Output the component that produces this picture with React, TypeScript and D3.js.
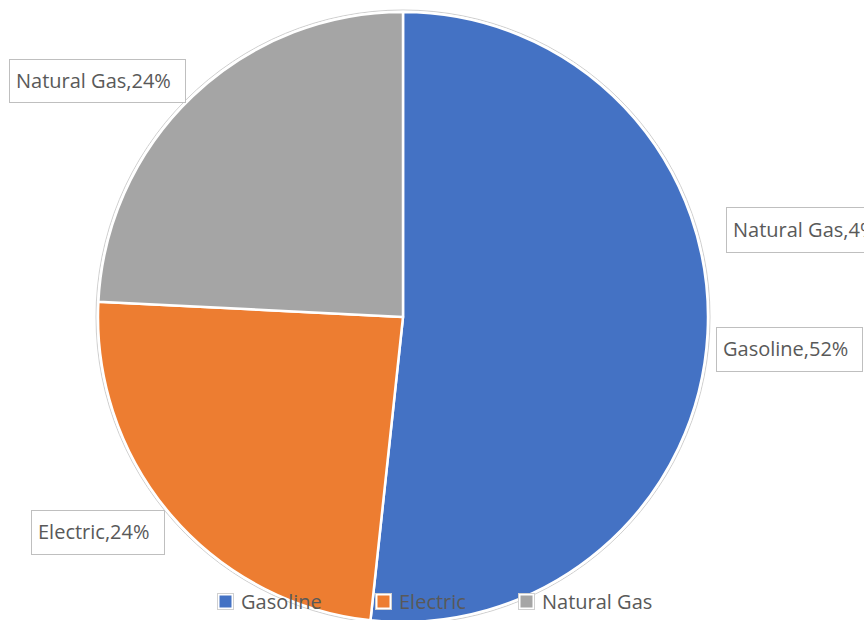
import * as d3 from "d3";
import React from "react";

// data
const categories = ["Gasoline", "Electric", "Natural Gas"];
const shares = [51.7, 24.1, 24.2];
const sliceColors = ["#4472C4", "#ED7D31", "#A5A5A5"];
// stray callout that sits half off the right edge in the original
const strayLabel = "Natural Gas,4%";

const W = 864;
const H = 620;
const cx = 403;
const cy = 317;
const radius = 305;
const font = "'Open Sans', 'Noto Sans', sans-serif";
const textColor = "#595959";
const labelSize = 20;

// callout boxes, by category index, in page coordinates
const callouts = [
	{ x: 716, y: 327, w: 146, h: 44 },
	{ x: 31, y: 510, w: 133, h: 44 },
	{ x: 9, y: 59, w: 176, h: 43 },
];
const legendX = [217, 375, 518];
const legendY = 602;

const App = () => {
	const pie = d3
		.pie<number>()
		.sort(null)
		.value((d) => d);
	const arcs = pie(shares);
	const arc = d3
		.arc<d3.PieArcDatum<number>>()
		.innerRadius(0)
		.outerRadius(radius);
	const total = d3.sum(shares);

	return (
		<svg
			width={W}
			height={H}
			style={{ position: "absolute", left: 0, top: 0, background: "#fff" }}
		>
			<circle cx={cx} cy={cy} r={radius + 2} fill="none" stroke="#cfcfcf" strokeWidth={1} />
			<g transform={`translate(${cx},${cy})`}>
				{arcs.map((a, i) => (
					<path
						key={categories[i]}
						d={arc(a) ?? ""}
						fill={sliceColors[i]}
						stroke="#fff"
						strokeWidth={2.5}
						strokeLinejoin="round"
					/>
				))}
			</g>

			{/* data labels */}
			{callouts.map((b, i) => (
				<g key={"lbl" + i}>
					<rect x={b.x + 0.5} y={b.y + 0.5} width={b.w} height={b.h} fill="#fff" stroke="#bfbfbf" />
					<text
						x={b.x + 7}
						y={b.y + b.h / 2}
						dy="0.35em"
						fontFamily={font}
						fontSize={labelSize}
						fill={textColor}
					>
						{`${categories[i]},${Math.round((shares[i] / total) * 100)}%`}
					</text>
				</g>
			))}
			<g>
				<rect x={726.5} y={207.5} width={160} height={45} fill="#fff" stroke="#bfbfbf" />
				<text x={733} y={230} dy="0.35em" fontFamily={font} fontSize={labelSize} fill={textColor}>
					{strayLabel}
				</text>
			</g>

			{/* legend, drawn over the pie */}
			{categories.map((c, i) => (
				<g key={"leg" + c} transform={`translate(${legendX[i]},${legendY})`}>
					<rect x={0.5} y={-8.5} width={16} height={16} fill="#fff" stroke="#d0d0d0" />
					<rect x={2.5} y={-6.5} width={12} height={12} fill={sliceColors[i]} />
					<text x={24} y={0} dy="0.35em" fontFamily={font} fontSize={labelSize} fill={textColor}>
						{c}
					</text>
				</g>
			))}
		</svg>
	);
};

export default App;
